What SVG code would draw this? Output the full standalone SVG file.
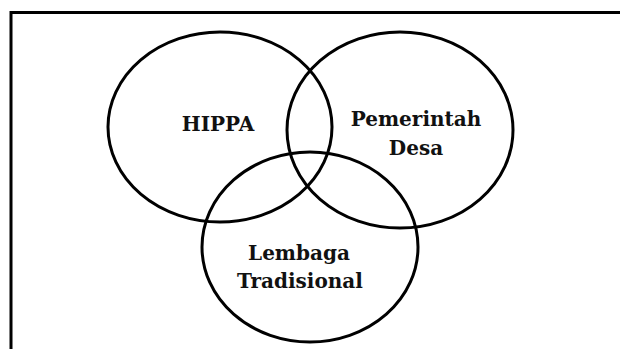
<svg xmlns="http://www.w3.org/2000/svg" width="620" height="349" viewBox="0 0 620 349">
  <style>
    .frame { stroke: #000; stroke-width: 3; fill: none; }
    .set { stroke: #000; stroke-width: 3; fill: none; }
    .lbl { font-family: "DejaVu Serif", "Liberation Serif", serif; font-weight: bold; font-size: 20px; fill: #111; text-anchor: middle; }
  </style>
  <rect width="620" height="349" fill="#fff"/>
  <!-- partial page frame: top and left edges -->
  <path class="frame" d="M11 349 V12.5 H620"/>
  <g id="hippa">
    <ellipse class="set" cx="220" cy="127" rx="112" ry="95"/>
    <text class="lbl" x="218" y="131">HIPPA</text>
  </g>
  <g id="pemerintah-desa">
    <ellipse class="set" cx="400" cy="130" rx="113" ry="98"/>
    <text class="lbl" x="416" y="126">Pemerintah</text>
    <text class="lbl" x="416" y="155">Desa</text>
  </g>
  <g id="lembaga-tradisional">
    <ellipse class="set" cx="310" cy="247" rx="108" ry="95"/>
    <text class="lbl" x="299" y="260">Lembaga</text>
    <text class="lbl" x="300" y="288">Tradisional</text>
  </g>
  <g id="connectors"/>
</svg>
